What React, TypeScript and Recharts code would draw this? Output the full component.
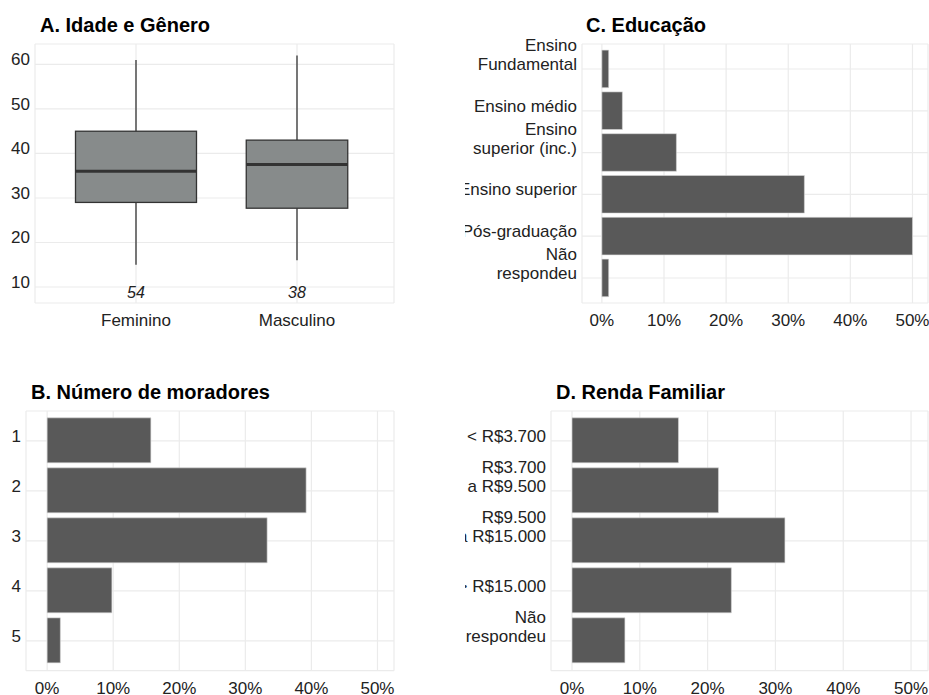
import React from 'react';
import { BarChart, Bar, XAxis, YAxis, CartesianGrid } from 'recharts';

// ---------- Data ----------
const genderCategories = ['Feminino', 'Masculino'];
const ageMin = [15, 16];
const ageQ1 = [29, 27.7];
const ageMedian = [36, 37.5];
const ageQ3 = [45, 43];
const ageMax = [61, 62];
const genderCounts = [54, 38];
const ageTicks = [10, 20, 30, 40, 50, 60];

const educationCategories = [
  'Ensino\nFundamental',
  'Ensino médio',
  'Ensino\nsuperior (inc.)',
  'Ensino superior',
  'Pós-graduação',
  'Não\nrespondeu',
];
const educationPct = [1.1, 3.3, 12.0, 32.6, 50.0, 1.1];

const residentsCategories = ['1', '2', '3', '4', '5'];
const residentsPct = [15.7, 39.2, 33.3, 9.8, 2.0];

const incomeCategories = [
  '< R$3.700',
  'R$3.700\na R$9.500',
  'R$9.500\na R$15.000',
  '> R$15.000',
  'Não\nrespondeu',
];
const incomePct = [15.7, 21.6, 31.4, 23.5, 7.8];

const percentTicks = [0, 10, 20, 30, 40, 50];

const titles = ['A. Idade e Gênero', 'B. Número de moradores', 'C. Educação', 'D. Renda Familiar'];

// ---------- Styles ----------
const FONT = '"Liberation Sans", Arial, sans-serif';
const TEXT = '#222222';
const GRID = '#EBEBEB';
const BAR = '#595959';
const BOX = '#878B8B';
const BOX_LINE = '#333333';
const N_LABEL_AT = 8.9;

const ageData = genderCategories.map((name, i) => ({
  name,
  box: [ageQ1[i], ageQ3[i]],
  q1: ageQ1[i],
  q3: ageQ3[i],
  median: ageMedian[i],
  min: ageMin[i],
  max: ageMax[i],
  n: genderCounts[i],
}));
const nMax = Math.max(...genderCounts);

const educationData = educationCategories.map((name, i) => ({ name, value: educationPct[i] }));
const residentsData = residentsCategories.map((name, i) => ({ name, value: residentsPct[i] }));
const incomeData = incomeCategories.map((name, i) => ({ name, value: incomePct[i] }));

// ---------- Components ----------
const BoxShape = (props: any) => {
  const { x, y, width, height, payload } = props;
  const { q1, q3, median, min, max, n } = payload;
  const top = Math.min(y, y + height);
  const h = Math.abs(height);
  const ppu = h / (q3 - q1);
  const toY = (v: number) => top + (q3 - v) * ppu;
  const cx = x + width / 2;
  const w = width * Math.sqrt(n / nMax);
  return (
    <g>
      <line x1={cx} x2={cx} y1={toY(max)} y2={toY(q3)} stroke={BOX_LINE} strokeWidth={1.3} />
      <line x1={cx} x2={cx} y1={toY(q1)} y2={toY(min)} stroke={BOX_LINE} strokeWidth={1.3} />
      <rect x={cx - w / 2} y={toY(q3)} width={w} height={h} fill={BOX} stroke={BOX_LINE} strokeWidth={1.3} />
      <line x1={cx - w / 2} x2={cx + w / 2} y1={toY(median)} y2={toY(median)} stroke={BOX_LINE} strokeWidth={3} />
      <text
        x={cx}
        y={toY(N_LABEL_AT) + 6}
        textAnchor="middle"
        fontStyle="italic"
        fontSize={16}
        fontFamily={FONT}
        fill={TEXT}
      >
        {n}
      </text>
    </g>
  );
};

const XTick = (props: any) => {
  const { x, y, payload, suffix } = props;
  return (
    <text x={x} y={y + 23} textAnchor="middle" fontSize={17} fontFamily={FONT} fill={TEXT}>
      {`${payload.value}${suffix || ''}`}
    </text>
  );
};

const YTick = (props: any) => {
  const { x, y, payload } = props;
  const lines = String(payload.value).split('\n');
  return (
    <text textAnchor="end" fontSize={17} fontFamily={FONT} fill={TEXT}>
      {lines.map((line, i) => (
        <tspan key={i} x={x - 5} y={y + 1 - (lines.length - 1 - i) * 19}>
          {line}
        </tspan>
      ))}
    </text>
  );
};

type HBarProps = {
  left: number;
  top: number;
  width: number;
  height: number;
  yWidth: number;
  xHeight: number;
  marginTop: number;
  marginRight: number;
  data: { name: string; value: number }[];
  domain: [number, number];
  pad: number;
  barSize: number;
};

const HBar = ({ left, top, width, height, yWidth, xHeight, marginTop, marginRight, data, domain, pad, barSize }: HBarProps) => (
  <div style={{ position: 'absolute', left, top }}>
    <BarChart
      width={width}
      height={height}
      data={data}
      layout="vertical"
      margin={{ top: marginTop, right: marginRight, bottom: 0, left: 0 }}
    >
      <CartesianGrid stroke={GRID} strokeWidth={1.2} />
      <XAxis
        type="number"
        domain={domain}
        allowDataOverflow
        ticks={percentTicks}
        interval={0}
        axisLine={false}
        tickLine={false}
        tickSize={0}
        tickMargin={0}
        height={xHeight}
        tick={<XTick suffix="%" />}
      />
      <YAxis
        type="category"
        dataKey="name"
        width={yWidth}
        axisLine={false}
        tickLine={false}
        tickSize={0}
        tickMargin={0}
        interval={0}
        padding={{ top: pad, bottom: pad }}
        tick={<YTick />}
      />
      <Bar dataKey="value" fill={BAR} stroke="#d6d6d6" strokeWidth={0.6} barSize={barSize} isAnimationActive={false} />
    </BarChart>
  </div>
);

export default function App() {
  return (
    <div style={{ position: 'absolute', left: 0, top: 0, width: 929, height: 695, background: '#ffffff', overflow: 'hidden' }}>
      {/* A. Idade e Gênero */}
      <div style={{ position: 'absolute', left: 0, top: 0 }}>
        <BarChart width={400} height={340} data={ageData} margin={{ top: 44, right: 6, bottom: 0, left: 0 }}>
          <CartesianGrid stroke={GRID} strokeWidth={1.2} />
          <XAxis
            dataKey="name"
            axisLine={false}
            tickLine={false}
            tickSize={0}
            tickMargin={0}
            height={37}
            padding={{ left: 20.5, right: 16.5 }}
            interval={0}
            tick={<XTick />}
          />
          <YAxis
            type="number"
            domain={[6.4, 64.6]}
            allowDataOverflow
            ticks={ageTicks}
            interval={0}
            axisLine={false}
            tickLine={false}
            tickSize={0}
            tickMargin={0}
            width={35}
            tick={<YTick />}
          />
          <Bar dataKey="box" barSize={121} shape={<BoxShape />} isAnimationActive={false} />
        </BarChart>
      </div>

      {/* C. Educação */}
      <HBar
        left={465}
        top={0}
        width={464}
        height={340}
        yWidth={117}
        xHeight={37}
        marginTop={44}
        marginRight={1}
        data={educationData}
        domain={[-3.2, 52.5]}
        pad={4.1}
        barSize={37.6}
      />

      {/* B. Número de moradores */}
      <HBar
        left={0}
        top={370}
        width={400}
        height={325}
        yWidth={26}
        xHeight={24.3}
        marginTop={41}
        marginRight={6}
        data={residentsData}
        domain={[-3.2, 52.5]}
        pad={4.85}
        barSize={45}
      />

      {/* D. Renda Familiar */}
      <HBar
        left={465}
        top={370}
        width={464}
        height={325}
        yWidth={86}
        xHeight={24.3}
        marginTop={41}
        marginRight={1}
        data={incomeData}
        domain={[-3.1, 52.5]}
        pad={4.85}
        barSize={45}
      />

      <svg width={929} height={695} style={{ position: 'absolute', left: 0, top: 0, pointerEvents: 'none' }}>
        <text x={40} y={32} fontSize={20} fontWeight="bold" fontFamily={FONT} fill="#000">{titles[0]}</text>
        <text x={31} y={399} fontSize={20} fontWeight="bold" fontFamily={FONT} fill="#000">{titles[1]}</text>
        <text x={586} y={32} fontSize={20} fontWeight="bold" fontFamily={FONT} fill="#000">{titles[2]}</text>
        <text x={556} y={399} fontSize={20} fontWeight="bold" fontFamily={FONT} fill="#000">{titles[3]}</text>
      </svg>
    </div>
  );
}
